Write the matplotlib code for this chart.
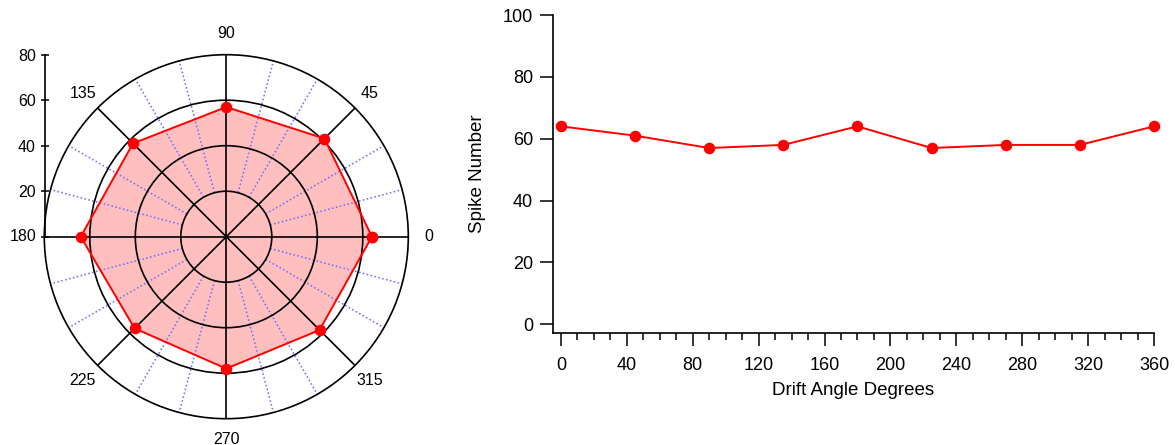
import numpy as np
import matplotlib
matplotlib.use('Agg')
import matplotlib.pyplot as plt

# ---- data ----
angles_deg = [0, 45, 90, 135, 180, 225, 270, 315, 360]
spikes = [64, 61, 57, 58, 64, 57, 58, 58, 64]
polar_tick_labels = ['0', '45', '90', '135', '180', '225', '270', '315']
radial_ticks = [0, 20, 40, 60, 80]
radial_tick_labels = ['', '20', '40', '60', '80']
x_ticks = [0, 40, 80, 120, 160, 200, 240, 280, 320, 360]
y_ticks = [0, 20, 40, 60, 80, 100]

plt.rcParams['font.family'] = ['Liberation Sans', 'DejaVu Sans']

W, H = 1175, 445
fig = plt.figure(figsize=(W / 100, H / 100), dpi=100)

# ---- polar plot ----
cx, cy, R = 226.3, 236.7, 182.0
axp = fig.add_axes([(cx - R) / W, (H - cy - R) / H, 2 * R / W, 2 * R / H], projection='polar')
theta = np.deg2rad(angles_deg)
axp.fill(theta, spikes, color='#ffbfbf', zorder=1, lw=0)
minor = [a for a in range(0, 360, 15) if a % 45]
axp.vlines(np.deg2rad(minor), 20, 80, colors='#7070ff', linestyles=(0, (1, 1.5)), lw=1.15, zorder=2)
axp.plot(theta, spikes, color='red', lw=1.4, marker='o', ms=7.3, zorder=4, clip_on=False)
axp.set_ylim(0, 80)
axp.set_rgrids([20, 40, 60], labels=[])
axp.set_thetagrids(angles_deg[:-1], polar_tick_labels)
axp.grid(True, color='black', lw=1.2, ls='-')
axp.set_axisbelow(False)
axp.spines['polar'].set_linewidth(1.2)
axp.set_xticks(np.deg2rad(minor), minor=True)
axp.tick_params(axis='x', which='major', labelsize=11.5, pad=5, direction='out',
                length=3, width=1.2, colors='black')
axp.tick_params(axis='x', which='minor', direction='inout', length=5, width=1.0)
axp.tick_params(axis='y', length=0)

# radial scale on the left
axr = fig.add_axes([(cx - R + 0.7) / W, (H - cy) / H, 0.002, R / H])
axr.set_ylim(0, 80)
axr.set_yticks(radial_ticks)
axr.set_yticklabels(radial_tick_labels)
axr.set_xticks([])
for s in ['top', 'right', 'bottom']:
    axr.spines[s].set_visible(False)
axr.spines['left'].set_linewidth(1.2)
axr.patch.set_visible(False)
axr.tick_params(axis='y', direction='inout', length=5.5, width=1.1, labelsize=11.5, pad=4)

# ---- cartesian plot ----
x0, x1, yt, yb = 553, 1154, 15, 333.3
ax = fig.add_axes([x0 / W, 1 - yb / H, (x1 - x0) / W, (yb - yt) / H])
ax.plot(angles_deg, spikes, color='red', lw=1.4, marker='o', ms=7.3, clip_on=False, zorder=3)
ax.set_xlim(-4.8, 360)
ax.set_ylim(-2.9, 100)
ax.set_xticks(x_ticks)
ax.set_xticks(list(range(0, 361, 10)), minor=True)
ax.set_yticks(y_ticks)
for s in ['top', 'right']:
    ax.spines[s].set_visible(False)
for s in ['left', 'bottom']:
    ax.spines[s].set_linewidth(1.2)
ax.tick_params(axis='both', which='major', direction='out', length=9.4, width=1.1,
               labelsize=13, pad=5)
ax.tick_params(axis='x', which='major', pad=8)
ax.tick_params(axis='x', which='minor', direction='out', length=5, width=1.1)
ax.set_xlabel('Drift Angle Degrees', fontsize=13.5, labelpad=5.5)
ax.set_ylabel('Spike Number', fontsize=13.5, labelpad=12)

fig.savefig('out.png', dpi=100)
